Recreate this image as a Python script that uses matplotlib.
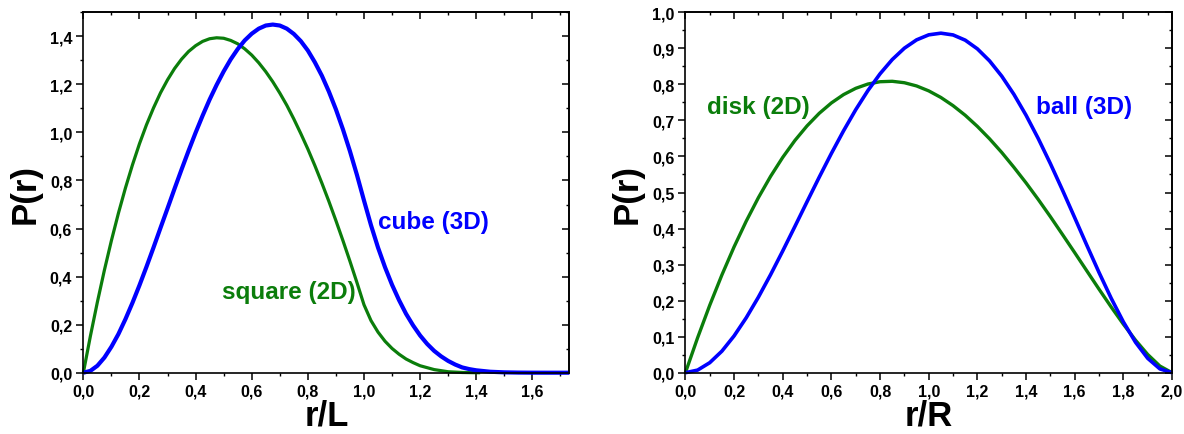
import matplotlib
matplotlib.use("Agg")
import matplotlib.pyplot as plt
from matplotlib.ticker import MultipleLocator, FuncFormatter

plt.rcParams['font.family'] = ['Liberation Sans', 'DejaVu Sans']
plt.rcParams['font.weight'] = 'bold'

GREEN = '#0b7d0b'
BLUE = '#0000ff'

# left panel: square (2D) and cube (3D), r/L
square_r = [0, 0.025, 0.05, 0.075, 0.1, 0.125, 0.15, 0.175, 0.2, 0.225, 0.25, 0.275, 0.3,
            0.325, 0.35, 0.375, 0.4, 0.425, 0.45, 0.475, 0.5, 0.525, 0.55, 0.575, 0.6,
            0.625, 0.65, 0.675, 0.7, 0.725, 0.75, 0.775, 0.8, 0.825, 0.85, 0.875, 0.9,
            0.925, 0.95, 0.975, 1.0, 1.025, 1.05, 1.075, 1.1, 1.125, 1.15, 1.175, 1.2,
            1.25, 1.3, 1.35, 1.4, 1.414]
square_p = [0, 0.152, 0.294, 0.427, 0.550, 0.664, 0.769, 0.865, 0.953, 1.032, 1.102, 1.165, 1.219,
            1.266, 1.305, 1.337, 1.361, 1.379, 1.390, 1.394, 1.392, 1.383, 1.369, 1.348, 1.322,
            1.290, 1.253, 1.211, 1.164, 1.113, 1.056, 0.995, 0.931, 0.862, 0.789, 0.713, 0.633,
            0.550, 0.464, 0.375, 0.283, 0.217, 0.169, 0.131, 0.101, 0.077, 0.057, 0.042, 0.029,
            0.013, 0.004, 0.001, 0.0, 0.0]

cube_r = [0, 0.025, 0.05, 0.075, 0.1, 0.125, 0.15, 0.175, 0.2, 0.225, 0.25, 0.275, 0.3,
          0.325, 0.35, 0.375, 0.4, 0.425, 0.45, 0.475, 0.5, 0.525, 0.55, 0.575, 0.6,
          0.625, 0.65, 0.675, 0.7, 0.725, 0.75, 0.775, 0.8, 0.825, 0.85, 0.875, 0.9,
          0.925, 0.95, 0.975, 1.0, 1.025, 1.05, 1.075, 1.1, 1.125, 1.15, 1.175, 1.2,
          1.225, 1.25, 1.275, 1.3, 1.325, 1.35, 1.375, 1.4, 1.45, 1.5, 1.55, 1.6, 1.65, 1.732]
cube_p = [0, 0.0076, 0.029, 0.063, 0.108, 0.161, 0.223, 0.291, 0.364, 0.441, 0.521, 0.603, 0.684,
          0.766, 0.846, 0.924, 0.999, 1.070, 1.137, 1.198, 1.254, 1.304, 1.347, 1.383, 1.411,
          1.432, 1.445, 1.449, 1.445, 1.432, 1.410, 1.380, 1.341, 1.292, 1.236, 1.170, 1.096,
          1.013, 0.922, 0.823, 0.717, 0.614, 0.521, 0.439, 0.366, 0.302, 0.245, 0.197, 0.155,
          0.120, 0.091, 0.068, 0.049, 0.034, 0.022, 0.015, 0.010, 0.004, 0.0015, 0.0005, 0.0001, 0.0, 0.0]

# right panel: disk (2D) and ball (3D), r/R
sphere_r = [0, 0.05, 0.1, 0.15, 0.2, 0.25, 0.3, 0.35, 0.4, 0.45, 0.5, 0.55, 0.6, 0.65, 0.7,
            0.75, 0.8, 0.85, 0.9, 0.95, 1.0, 1.05, 1.1, 1.15, 1.2, 1.25, 1.3, 1.35, 1.4, 1.45,
            1.5, 1.55, 1.6, 1.65, 1.7, 1.75, 1.8, 1.85, 1.9, 1.95, 2.0]
disk_p = [0, 0.0968, 0.1873, 0.2714, 0.3492, 0.4206, 0.4858, 0.5448, 0.5976, 0.6444, 0.6850,
          0.7198, 0.7486, 0.7717, 0.7891, 0.8010, 0.8074, 0.8086, 0.8046, 0.7957, 0.7820,
          0.7637, 0.7410, 0.7143, 0.6834, 0.6490, 0.6112, 0.5700, 0.5267, 0.4808, 0.4329,
          0.3832, 0.3331, 0.2823, 0.2317, 0.1822, 0.1346, 0.0902, 0.0506, 0.0185, 0]
ball_p = [0, 0.0072, 0.0278, 0.0599, 0.1021, 0.1525, 0.2097, 0.2720, 0.3379, 0.4059, 0.4746,
          0.5426, 0.6086, 0.6713, 0.7298, 0.7828, 0.8294, 0.8689, 0.9005, 0.9235, 0.9375,
          0.9421, 0.9372, 0.9227, 0.8986, 0.8652, 0.8229, 0.7724, 0.7144, 0.6499, 0.5801,
          0.5063, 0.4301, 0.3533, 0.2780, 0.2064, 0.1409, 0.0844, 0.0399, 0.0106, 0]

comma = FuncFormatter(lambda v, pos: f"{v:.1f}".replace('.', ','))


def style_axes(ax, xmaj, xmin, ymaj, ymin):
    for s in ax.spines.values():
        s.set_linewidth(1.2)
    ax.xaxis.set_major_locator(MultipleLocator(xmaj))
    ax.xaxis.set_minor_locator(MultipleLocator(xmin))
    ax.yaxis.set_major_locator(MultipleLocator(ymaj))
    ax.yaxis.set_minor_locator(MultipleLocator(ymin))
    ax.xaxis.set_major_formatter(comma)
    ax.yaxis.set_major_formatter(comma)
    ax.tick_params(which='major', direction='out', length=5, width=1.1, labelsize=11.5, pad=3)
    ax.tick_params(which='minor', direction='out', length=2.5, width=1.0)
    # mirrored ticks on top / right pointing inside
    sec = ax.secondary_xaxis('top')
    sec.xaxis.set_major_locator(MultipleLocator(xmaj))
    sec.xaxis.set_minor_locator(MultipleLocator(xmin))
    sec.tick_params(which='major', direction='in', length=5, width=1.1, labeltop=False)
    sec.tick_params(which='minor', direction='in', length=2.5, width=1.0)
    sec.spines['top'].set_linewidth(1.2)
    sec = ax.secondary_yaxis('right')
    sec.yaxis.set_major_locator(MultipleLocator(ymaj))
    sec.yaxis.set_minor_locator(MultipleLocator(ymin))
    sec.tick_params(which='major', direction='in', length=5, width=1.1, labelright=False)
    sec.tick_params(which='minor', direction='in', length=2.5, width=1.0)
    sec.spines['right'].set_linewidth(1.2)


fig = plt.figure(figsize=(11.84, 4.35), dpi=100)
ax1 = fig.add_axes([0.0704, 0.1409, 0.4105, 0.8285])
ax2 = fig.add_axes([0.5789, 0.1409, 0.4110, 0.8285])

ax1.plot(square_r, square_p, color=GREEN, lw=2.3, clip_on=False, solid_capstyle='butt')
ax1.plot(cube_r, cube_p, color=BLUE, lw=3.0, clip_on=False, solid_capstyle='butt')
ax1.set_xlim(0, 1.732)
ax1.set_ylim(0, 1.5)
style_axes(ax1, 0.2, 0.1, 0.2, 0.1)
ax1.set_xlabel('r/L', fontsize=25, fontweight='bold', labelpad=0)
ax1.set_ylabel('P(r)', fontsize=25, fontweight='bold', labelpad=6)
ax1.text(1.05, 0.63, 'cube (3D)', color=BLUE, fontsize=17.5, fontweight='bold', va='center', ha='left')
ax1.text(0.494, 0.336, 'square (2D)', color=GREEN, fontsize=17.5, fontweight='bold', va='center', ha='left')

ax2.plot(sphere_r, disk_p, color=GREEN, lw=2.4, clip_on=False, solid_capstyle='butt')
ax2.plot(sphere_r, ball_p, color=BLUE, lw=2.6, clip_on=False, solid_capstyle='butt')
ax2.set_xlim(0, 2.0)
ax2.set_ylim(0, 1.0)
style_axes(ax2, 0.2, 0.1, 0.1, 0.05)
ax2.set_xlabel('r/R', fontsize=25, fontweight='bold', labelpad=0)
ax2.set_ylabel('P(r)', fontsize=25, fontweight='bold', labelpad=6)
ax2.text(0.088, 0.74, 'disk (2D)', color=GREEN, fontsize=17.5, fontweight='bold', va='center', ha='left')
ax2.text(1.44, 0.74, 'ball (3D)', color=BLUE, fontsize=17.5, fontweight='bold', va='center', ha='left')

fig.savefig('out.png', dpi=100)
